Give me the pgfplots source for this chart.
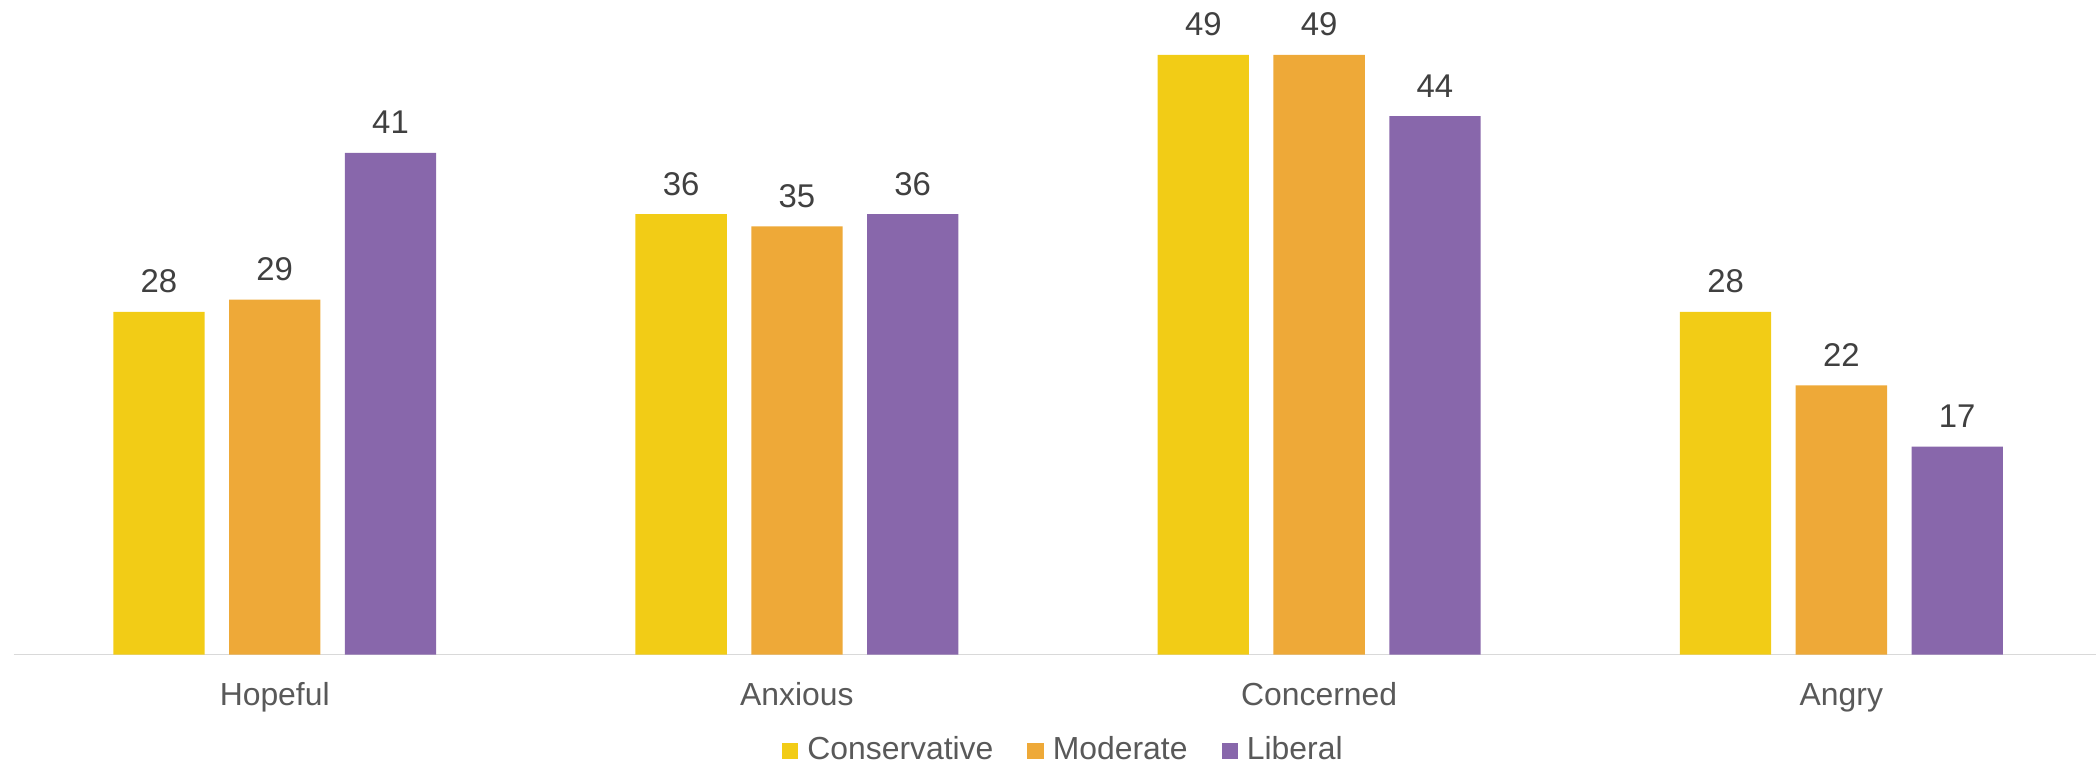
\documentclass[border=0pt]{standalone}
\usepackage{pgfplots}
\pgfplotsset{compat=1.18}
\usepackage{fontspec}
\setmainfont{Liberation Sans}
\definecolor{cons}{RGB}{242,204,22}
\definecolor{mode}{RGB}{238,169,56}
\definecolor{libe}{RGB}{136,103,171}
\definecolor{axisgray}{RGB}{217,217,217}
\definecolor{catgray}{RGB}{89,89,89}
\definecolor{labgray}{RGB}{64,64,64}
\begin{document}
\begin{tikzpicture}
\begin{axis}[
  scale only axis, width=1044.45bp, height=306bp,
  xmin=-0.5, xmax=3.5, ymin=0, ymax=50,
  axis y line=none, axis x line*=bottom,
  x axis line style={draw=axisgray, line width=0.7bp, -},
  xtick={0,1,2,3}, xticklabels={Hopeful,Anxious,Concerned,Angry},
  major tick length=0pt,
  /pgf/number format/assume math mode=true,
  xticklabel style={font=\fontsize{16}{19}\selectfont, text=catgray, anchor=base, yshift=-25.15bp, inner sep=0pt},
  ybar, bar width=45.65bp,
  clip=false,
  nodes near coords,
  every node near coord/.append style={font=\fontsize{16.5}{19}\selectfont, text=labgray, anchor=base, yshift=9.5bp, inner sep=0pt},
  legend columns=3,
  legend style={draw=none, at={(0.5030,-0.1556)}, anchor=center, font=\fontsize{16}{19}\selectfont, text=catgray,
    /tikz/every odd column/.append style={column sep=2.5bp},
    /tikz/every even column/.append style={column sep=15bp}, nodes={inner sep=2bp}},
  legend image code/.code={\fill[#1] (0bp,-4.5bp) rectangle (8.2bp,3.7bp);},
]
\addplot[fill=cons, draw=none, bar shift=-57.9bp] coordinates {(0,28) (1,36) (2,49) (3,28)};
\addplot[fill=mode, draw=none, bar shift=0bp] coordinates {(0,29) (1,35) (2,49) (3,22)};
\addplot[fill=libe, draw=none, bar shift=57.9bp] coordinates {(0,41) (1,36) (2,44) (3,17)};
\legend{Conservative,Moderate,Liberal}
\end{axis}
\pgfresetboundingbox
\path[use as bounding box] ([xshift=-6.8bp, yshift=-57.15bp]current axis.south west) rectangle ++(1048bp,384.5bp);
\end{tikzpicture}
\end{document}
